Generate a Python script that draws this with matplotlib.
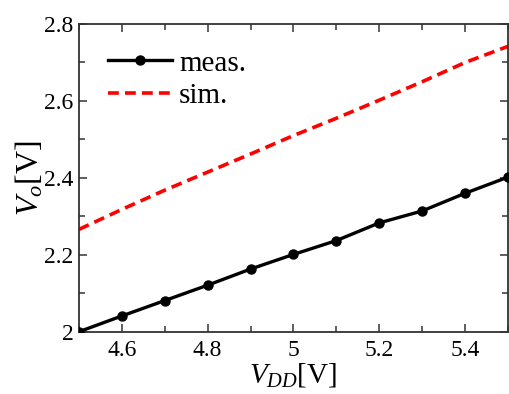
import matplotlib
matplotlib.use("Agg")
import matplotlib.pyplot as plt
from matplotlib.ticker import MultipleLocator, FuncFormatter

vdd = [4.5, 4.6, 4.7, 4.8, 4.9, 5.0, 5.1, 5.2, 5.3, 5.4, 5.5]
meas = [2.000, 2.041, 2.081, 2.121, 2.163, 2.201, 2.237, 2.283, 2.314, 2.360, 2.402]
sim = [2.266, 2.318, 2.368, 2.415, 2.462, 2.510, 2.555, 2.602, 2.650, 2.700, 2.742]

plt.rcParams['font.family'] = 'Liberation Serif'
plt.rcParams['mathtext.fontset'] = 'custom'
plt.rcParams['mathtext.it'] = 'Liberation Serif:italic'
plt.rcParams['mathtext.rm'] = 'Liberation Serif'

fig = plt.figure(figsize=(5.09, 3.94), dpi=100)
ax = fig.add_axes([0.155, 0.158, 0.843, 0.781])

ax.plot(vdd, meas, color='black', lw=2.4, marker='o', ms=6.5, label='meas.', zorder=3)
ax.plot(vdd, sim, color='red', lw=2.6, ls=(0, (3.0, 1.7)), label='sim.')

ax.set_xlim(4.5, 5.5)
ax.set_ylim(2.0, 2.8)
ax.xaxis.set_minor_locator(MultipleLocator(0.1))
ax.yaxis.set_major_locator(MultipleLocator(0.2))
ax.yaxis.set_minor_locator(MultipleLocator(0.1))
ax.set_xticks([4.6, 4.8, 5.0, 5.2, 5.4])
fmt = FuncFormatter(lambda v, p: ('%g' % round(v, 3)))
ax.xaxis.set_major_formatter(fmt)
ax.yaxis.set_major_formatter(fmt)
ax.tick_params(which='both', direction='in', top=True, right=True, labelsize=17, color='#444444')
ax.tick_params(which='major', length=6, width=1.2)
ax.tick_params(which='minor', length=4, width=1.2)
ax.tick_params(axis='x', pad=6)
ax.tick_params(axis='y', pad=4)
for s in ax.spines.values():
    s.set_linewidth(1.3)
    s.set_color('#333333')

ax.set_xlabel('$V_{DD}$[V]', fontsize=21, labelpad=0)
ax.set_ylabel('$V_o$[V]', fontsize=23, labelpad=-1)

leg = ax.legend(loc='upper left', frameon=False, fontsize=21, handlelength=2.2,
                handletextpad=0.25, labelspacing=0.2, bbox_to_anchor=(0.067, 0.915),
                borderaxespad=0.0, borderpad=0.0)

fig.savefig('out.png', dpi=100)
